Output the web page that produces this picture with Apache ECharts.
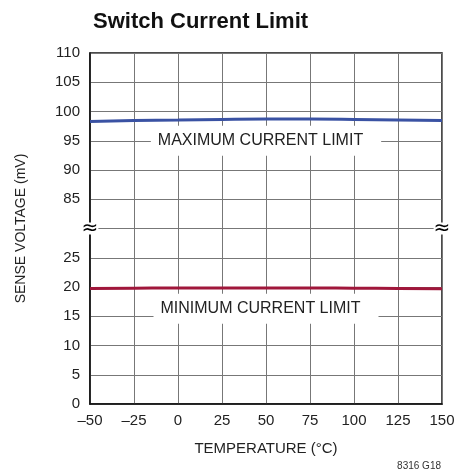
<!DOCTYPE html>
<html>
<head>
<meta charset="utf-8">
<script src="https://cdn.jsdelivr.net/npm/echarts@6/dist/echarts.min.js"></script>
<style>
  html, body { margin: 0; padding: 0; background: #fff; }
  #chart { width: 471px; height: 473px; }
</style>
</head>
<body>
<div id="chart"></div>
<script>
const FONT = '"Liberation Sans Narrow", "Arial Narrow", "Liberation Sans", sans-serif'

// temperature (°C)
const temps = [-50, -25, 0, 25, 50, 75, 100, 125, 150]
// sense voltage (mV)
const maxLimit = [98.3, 98.45, 98.55, 98.65, 98.7, 98.7, 98.65, 98.55, 98.45]
const minLimit = [19.75, 19.8, 19.85, 19.85, 19.85, 19.85, 19.8, 19.75, 19.7]
const lowTicks = [0, 5, 10, 15, 20, 25]
const highTicks = [85, 90, 95, 100, 105, 110]

// broken axis: lower part kept as is, upper part shifted down by 50
const BREAK_AT = 30
const SHIFT = 50
const toAxis = v => (v >= 80 ? v - SHIFT : v)
const tickLabel = v => {
  if (lowTicks.includes(v)) return String(v)
  if (highTicks.includes(v + SHIFT)) return String(v + SHIFT)
  return ''
}

const chart = echarts.init(document.getElementById('chart'))

const hidden = { symbol: 'rect', symbolSize: 1, itemStyle: { color: 'rgba(0,0,0,0)' } }

const breakMark = x => ({
  coord: [x, BREAK_AT],
  ...hidden,
  label: {
    show: true,
    position: 'inside',
    formatter: '\u2248',
    color: '#000',
    fontSize: 20,
    fontFamily: 'DejaVu Sans',
    lineHeight: 12,
    backgroundColor: '#fff',
    padding: [0, 0]
  }
})

const textMark = (x, y, text, padding) => ({
  coord: [x, y],
  ...hidden,
  label: {
    show: true,
    position: 'inside',
    formatter: text,
    fontFamily: FONT, fontSize: 16, color: '#222',
    lineHeight: 16,
    backgroundColor: '#fff',
    padding
  }
})

chart.setOption({
  animation: false,
  backgroundColor: '#fff',
  title: {
    text: 'Switch Current Limit',
    left: 88,
    top: 6,
    textStyle: { fontFamily: FONT, fontWeight: 'bold', fontSize: 22, color: '#111' }
  },
  grid: { left: 90, right: 29, top: 53, bottom: 69, show: true, borderColor: '#111', borderWidth: 1.5 },
  xAxis: {
    type: 'value',
    min: -50,
    max: 150,
    interval: 25,
    name: 'TEMPERATURE (°C)',
    nameLocation: 'middle',
    nameGap: 37,
    nameTextStyle: { fontFamily: FONT, fontSize: 15, color: '#222' },
    axisLine: { show: true, onZero: false, lineStyle: { color: '#111', width: 1.5 } },
    axisTick: { show: false },
    axisLabel: {
      fontFamily: FONT, fontSize: 15, color: '#222', margin: 9,
      formatter: v => String(v).replace('-', '\u2013')
    },
    splitLine: { show: true, lineStyle: { color: '#777', width: 1 } }
  },
  yAxis: {
    type: 'value',
    min: 0,
    max: 60,
    interval: 5,
    name: 'SENSE VOLTAGE (mV)',
    nameLocation: 'middle',
    nameGap: 62,
    nameTextStyle: { fontFamily: FONT, fontSize: 14, color: '#222' },
    axisLine: { show: true, onZero: false, lineStyle: { color: '#111', width: 1.5 } },
    axisTick: { show: false },
    axisLabel: { fontFamily: FONT, fontSize: 15, color: '#222', margin: 10, formatter: tickLabel },
    splitLine: { show: true, lineStyle: { color: '#777', width: 1 } }
  },
  graphic: [{
    type: 'text',
    right: 30,
    top: 461,
    style: { text: '8316 G18', font: '10px ' + FONT, fill: '#333' }
  }],
  series: [
    {
      type: 'line',
      data: temps.map((t, i) => [t, toAxis(maxLimit[i])]),
      smooth: true,
      symbol: 'none',
      lineStyle: { color: '#3a52a3', width: 3 },
      markPoint: {
        data: [
          textMark(50, 95 - SHIFT, 'MAXIMUM CURRENT LIMIT', [5, 18, 9, 7]),
          breakMark(-50),
          breakMark(150)
        ]
      }
    },
    {
      type: 'line',
      data: temps.map((t, i) => [t, toAxis(minLimit[i])]),
      smooth: true,
      symbol: 'none',
      lineStyle: { color: '#a0173b', width: 3 },
      markPoint: {
        data: [textMark(50, 16.3, 'MINIMUM CURRENT LIMIT', [7, 18, 7, 7])]
      }
    }
  ]
})
</script>
</body>
</html>
